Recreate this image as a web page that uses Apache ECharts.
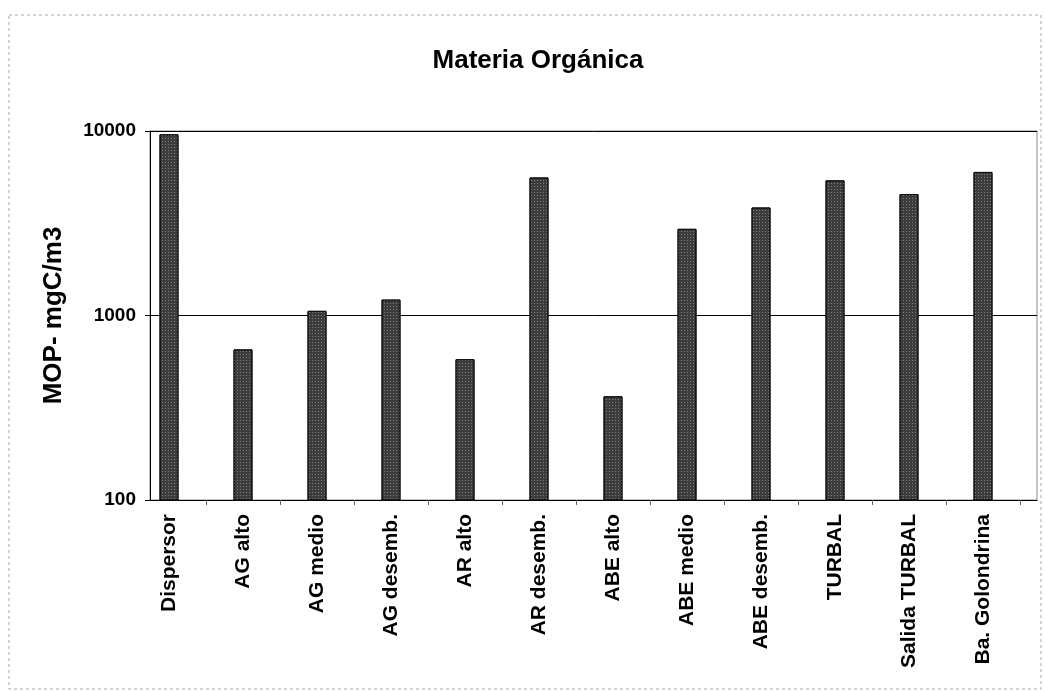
<!DOCTYPE html>
<html>
<head>
<meta charset="utf-8">
<title>Materia Orgánica</title>
<script src="https://cdn.jsdelivr.net/npm/echarts@6/dist/echarts.min.js"></script>
<style>
  html, body { margin: 0; padding: 0; background: #fff; }
  #chart { width: 1045px; height: 691px; }
</style>
</head>
<body>
<div id="chart"></div>
<script>
// estaciones de muestreo
var categorias = ['Dispersor', 'AG alto', 'AG medio', 'AG desemb.', 'AR alto', 'AR desemb.',
  'ABE alto', 'ABE medio', 'ABE desemb.', 'TURBAL', 'Salida TURBAL', 'Ba. Golondrina']
// MOP en mgC/m3 (escala log)
var mop = [9600, 655, 1060, 1220, 580, 5600, 365, 2950, 3850, 5400, 4550, 6000]

var fuente = 'Liberation Sans, Arial, sans-serif'

var chart = echarts.init(document.getElementById('chart'))

chart.setOption({
  backgroundColor: '#fff',
  animation: false,
  title: {
    text: 'Materia Orgánica',
    left: 533,
    top: 43,
    textAlign: 'center',
    textStyle: { fontFamily: fuente, fontSize: 26, fontWeight: 'bold', color: '#000' }
  },
  // marco exterior punteado
  graphic: [{
    type: 'rect',
    shape: { x: 9, y: 15, width: 1032, height: 674 },
    style: { fill: 'none', stroke: '#aaa', lineWidth: 1, lineDash: [3, 3] },
    silent: true
  }],
  grid: [
    // area del grafico (marco, eje y, lineas)
    { left: 150, right: 8, top: 131, bottom: 191, show: true, borderColor: '#888', borderWidth: 1 },
    // barras y etiquetas
    { left: 132, right: 25, top: 131, bottom: 191 }
  ],
  xAxis: [{
    gridIndex: 0,
    type: 'value',
    min: 0,
    max: 1,
    axisLine: { show: true, lineStyle: { color: '#000', width: 1 } },
    axisTick: { show: false },
    axisLabel: { show: false },
    splitLine: { show: false }
  }, {
    gridIndex: 1,
    type: 'category',
    data: categorias,
    axisLine: { show: false },
    axisTick: { show: true, length: 5, lineStyle: { color: '#666' } },
    axisLabel: {
      rotate: 90,
      margin: 14,
      interval: 0,
      fontFamily: fuente,
      fontSize: 21,
      fontWeight: 'bold',
      color: '#000'
    },
    splitLine: { show: false }
  }],
  yAxis: [{
    gridIndex: 0,
    type: 'log',
    logBase: 10,
    min: 100,
    max: 10000,
    name: 'MOP- mgC/m3',
    nameLocation: 'middle',
    nameGap: 83,
    nameTextStyle: { fontFamily: fuente, fontSize: 26, fontWeight: 'bold', color: '#000' },
    axisLine: { show: true, lineStyle: { color: '#000', width: 1 } },
    axisTick: { show: true, length: 5, lineStyle: { color: '#000' } },
    axisLabel: {
      margin: 14,
      fontFamily: fuente,
      fontSize: 19,
      fontWeight: 'bold',
      color: '#000',
      formatter: function (v) { return String(Math.round(v)) }
    },
    splitLine: { show: true, lineStyle: { color: '#000', width: 1 } },
    minorTick: { show: false }
  }, {
    gridIndex: 1,
    type: 'log',
    logBase: 10,
    min: 100,
    max: 10000,
    show: false
  }],
  series: [{
    type: 'bar',
    xAxisIndex: 1,
    yAxisIndex: 1,
    data: mop,
    barWidth: 19,
    itemStyle: {
      color: '#3c3c3c',
      borderColor: '#111',
      borderWidth: 1,
      // punteado tipo trama de impresion
      decal: {
        symbol: 'rect',
        symbolSize: 1,
        color: 'rgba(255,255,255,0.35)',
        dashArrayX: [1, 2],
        dashArrayY: [1, 2],
        rotation: 0
      }
    }
  }]
})
</script>
</body>
</html>
